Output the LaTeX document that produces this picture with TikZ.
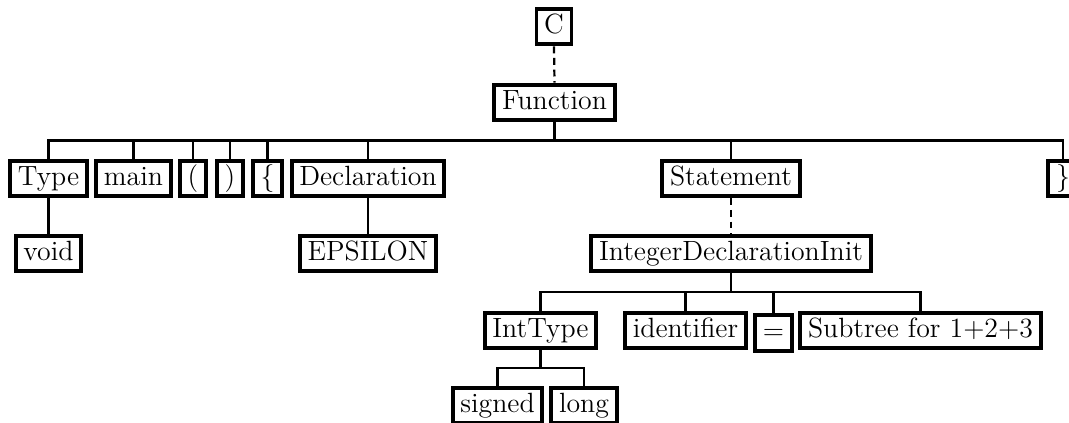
\documentclass[tikz,border=0pt]{standalone}
\begin{document}
\begin{tikzpicture}[x=0.431pt,y=-0.431pt,
  tok/.style={draw, line width=1.7pt, fill=white,
    font=\fontsize{12}{14}\selectfont,
    text height=8.6pt, text depth=2.6pt, inner xsep=3.3pt, inner ysep=2.1pt},
  branch/.style={line width=0.95pt},
  link/.style={line width=0.95pt, dash pattern=on 3pt off 2pt}]
\clip (0,0) rectangle (1069,423);

% root and function
\node[tok] (C)  at (554,26.5)  {C};
\node[tok] (fn) at (554.5,102.5) {Function};

% children of Function
\node[tok] (type) at (48.5,178.5)  {Type};
\node[tok] (main) at (133.5,178.5) {main};
\node[tok] (lp)   at (193,178.5)   {(};
\node[tok] (rp)   at (230,178.5)   {)};
\node[tok] (lb)   at (267.5,178.5) {\{};
\node[tok] (decl) at (368,178.5)   {Declaration};
\node[tok] (stmt) at (731,178.5)   {Statement};
\node[tok] (rb)   at (1063,178.5)  {\}};

% third level
\node[tok] (void) at (48.5,253.5) {void};
\node[tok] (eps)  at (368,253.5)  {EPSILON};
\node[tok] (idi)  at (731,253.5)  {IntegerDeclarationInit};

% children of IntegerDeclarationInit
\node[tok] (itype) at (540.5,330.5) {IntType};
\node[tok] (ident) at (685.5,330.5) {identifier};
\node[tok] (eq)    at (773.5,333)   {=};
\node[tok] (sub)   at (920.5,330.5) {Subtree for 1+2+3};

% children of IntType
\node[tok] (signed) at (497.5,405.5) {signed};
\node[tok] (long)   at (584,405.5)   {long};

% bar heights
\coordinate (b1) at (554.5,140.5);
\coordinate (b2) at (731,292);
\coordinate (b3) at (540.5,368);

% dashed links
\draw[link] (C.south) -- (fn.north);
\draw[link] (stmt.south) -- (idi.north);

% Function branches
\foreach \n in {type,main,lp,rp,lb,decl,stmt,rb}
  \draw[branch] (fn.south) -- (b1) -| (\n.north);

% single children
\draw[branch] (type.south) -- (void.north);
\draw[branch] (decl.south) -- (eps.north);

% IntegerDeclarationInit branches
\foreach \n in {itype,ident,eq,sub}
  \draw[branch] (idi.south) -- (b2) -| (\n.north);

% IntType branches
\foreach \n in {signed,long}
  \draw[branch] (itype.south) -- (b3) -| (\n.north);
\end{tikzpicture}
\end{document}
